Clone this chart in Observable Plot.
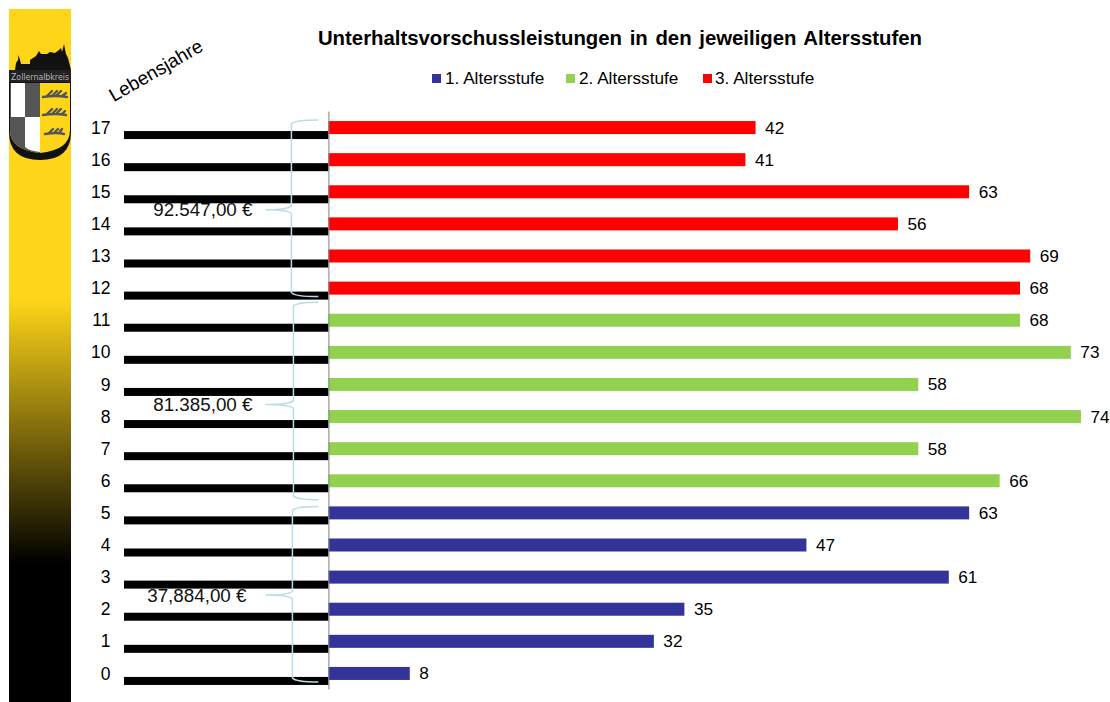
<!DOCTYPE html>
<html lang="de">
<head>
<meta charset="utf-8">
<script src="https://cdn.jsdelivr.net/npm/d3@7"></script>
<script src="https://cdn.jsdelivr.net/npm/@observablehq/plot@0.6"></script>
<style>
html,body{margin:0;padding:0;background:#fff;width:1110px;height:702px;overflow:hidden;font-family:"Liberation Sans",Arial,sans-serif;color:#000}
#page{position:relative;width:1110px;height:702px}
#band{position:absolute;left:9px;top:9px;width:62px;height:693px;background:linear-gradient(#FFD519 0%,#FFD519 42%,#000 80%,#000 100%)}
#crest{position:absolute;left:9px;top:40px}
#title{position:absolute;left:230px;width:780px;top:26px;text-align:center;font-weight:bold;font-size:20.35px;line-height:24px;word-spacing:2px}
.lg{position:absolute;top:69px;font-size:17.2px;line-height:19px;white-space:nowrap}
.sw{position:absolute;top:74px;width:9px;height:9px}
#years{position:absolute;left:156px;top:71px;font-size:19px;line-height:20px;white-space:nowrap;transform:translate(-50%,-50%) rotate(-30deg)}
#chart{position:absolute;left:0;top:0}
</style>
</head>
<body>
<div id="page">
  <div id="chart"></div>
  <div id="band"></div>
  <svg id="crest" width="62" height="125" viewBox="0 0 62 125">
    <path d="M6,30 L7,23 L9,20 L9.5,15 L11,20 L12,24 H21 V20 L27,16 L30,11 L32,14 H38 L41,12 L46,13 L50,10 L52,8 L53,12 L55,4 L57,14 L59,18 L62,30 Z" fill="#111"/>
    <rect x="0" y="30" width="62" height="12" fill="#222"/>
    <text x="31" y="39.5" text-anchor="middle" font-family="DejaVu Sans" font-size="8" fill="#b5b5b5" textLength="58" lengthAdjust="spacingAndGlyphs">Zollernalbkreis</text>
    <path d="M0,42 H62 V92 Q62,120 31,120 Q0,120 0,92 Z" fill="#111"/>
    <path d="M1,43 H61 V90 Q61,110 31,113 Q1,110 1,90 Z" fill="#FFD519"/>
    <path d="M1,43 H31 V113 Q1,110 1,90 Z" fill="#555"/>
    <rect x="2" y="43" width="14" height="34" fill="#fff"/>
    <path d="M16,77 H31 V112 Q20,111 16,107 Z" fill="#fff"/>
    <g fill="none" stroke="#555" stroke-width="2.4" stroke-linecap="round">
      <path d="M34,57 Q46,55 58,57 M38,56 L43,51 M43,56 L48,51 M48,55 L52,51 M53,56 L57,53"/>
      <path d="M34,75 Q46,73 57,75 M38,74 L43,69 M43,74 L48,69 M48,73 L52,69 M53,74 L56,71"/>
      <path d="M36,94 Q48,92 55,94 M40,93 L44,89 M45,93 L49,89 M50,93 L53,89"/>
    </g>
  </svg>
  <div id="title">Unterhaltsvorschussleistungen in den jeweiligen Altersstufen</div>
  <div class="sw" style="left:432px;background:#333399"></div><div class="lg" style="left:445px">1. Altersstufe</div>
  <div class="sw" style="left:566px;background:#92D050"></div><div class="lg" style="left:579px">2. Altersstufe</div>
  <div class="sw" style="left:703px;background:#FF0000"></div><div class="lg" style="left:715px">3. Altersstufe</div>
  <div id="years">Lebensjahre</div>
</div>
<script>
const ages = [0,1,2,3,4,5,6,7,8,9,10,11,12,13,14,15,16,17];
const values = [8,32,35,61,47,63,66,58,74,58,73,68,68,69,56,63,41,42];
const stages = ["1. Altersstufe","1. Altersstufe","1. Altersstufe","1. Altersstufe","1. Altersstufe","1. Altersstufe",
  "2. Altersstufe","2. Altersstufe","2. Altersstufe","2. Altersstufe","2. Altersstufe","2. Altersstufe",
  "3. Altersstufe","3. Altersstufe","3. Altersstufe","3. Altersstufe","3. Altersstufe","3. Altersstufe"];
const stageNames = ["1. Altersstufe","2. Altersstufe","3. Altersstufe"];
const stageColors = ["#333399","#92D050","#FF0000"];
const amounts = ["37,884,00 €","81.385,00 €","92.547,00 €"];
const amountRows = [3,9,15];
const amountEnds = [-8.11,-7.52,-7.52];
const amountDy = [18,20,18];
const braceTop = [5,11,17];
const braceBottom = [0,6,12];
const braceTopPad = [-6.5,-18,-7.5];
const braceBottomPad = [8.5,19,8.5];
const blackBarStart = -20.1;

const table = ages.map((age,i)=>({age,value:values[i],stage:stages[i]}));

function braces(index, {x, y}) {
  const g = d3.create("svg:g").attr("fill","none").attr("stroke","#B9DDE1").attr("stroke-width",1.5);
  const half = y.bandwidth() / 2;
  const x0 = x(0);
  braceTop.forEach((top,i)=>{
    const t = y(top) + half + braceTopPad[i], b = y(braceBottom[i]) + half + braceBottomPad[i];
    const m = y(amountRows[i]) + half + amountDy[i];
    const sx = x0 - 37 + (i===0?1:i===1?2:0), ex = x0 - 10, tx = x0 - 63;
    g.append("path").attr("d",
      `M${ex},${t} Q${sx+3},${t} ${sx},${t+4} V${m-4} Q${sx-3},${m} ${tx},${m} Q${sx-3},${m} ${sx},${m+4} V${b-4} Q${sx+3},${b} ${ex},${b}`);
  });
  return g.node();
}

const plot = Plot.plot({
  width:1110, height:702,
  marginLeft:124, marginRight:0, marginTop:111.5, marginBottom:12.5,
  style:{fontFamily:"Liberation Sans, Arial, sans-serif", background:"transparent", color:"#000"},
  x:{domain:[blackBarStart,76.85], axis:null},
  y:{domain:d3.reverse(ages), paddingInner:0.595, paddingOuter:0.2975, round:false, label:null},
  color:{domain:stageNames, range:stageColors},
  marks:[
    ...amounts.map((a,i)=>Plot.text([a],{x:amountEnds[i], y:[amountRows[i]], text:d=>d, textAnchor:"end", dy:amountDy[i], fontSize:18.8, fill:"#111"})),
    Plot.barX(table,{x1:blackBarStart, x2:0, y:"age", fill:"#000", insetTop:2.5, insetBottom:2.5, dy:7.5}),
    Plot.barX(table,{x:"value", y:"age", fill:"stage"}),
    Plot.ruleX([0],{stroke:"#808080", strokeWidth:1}),
    braces,
    Plot.axisY({anchor:"left", tickSize:0, tickPadding:14, fontSize:17.5, label:null}),
    Plot.text(table,{x:"value", y:"age", text:"value", textAnchor:"start", dx:9, fontSize:17.2, fill:"#000"})
  ]
});
document.getElementById("chart").append(plot);
</script>
</body>
</html>
